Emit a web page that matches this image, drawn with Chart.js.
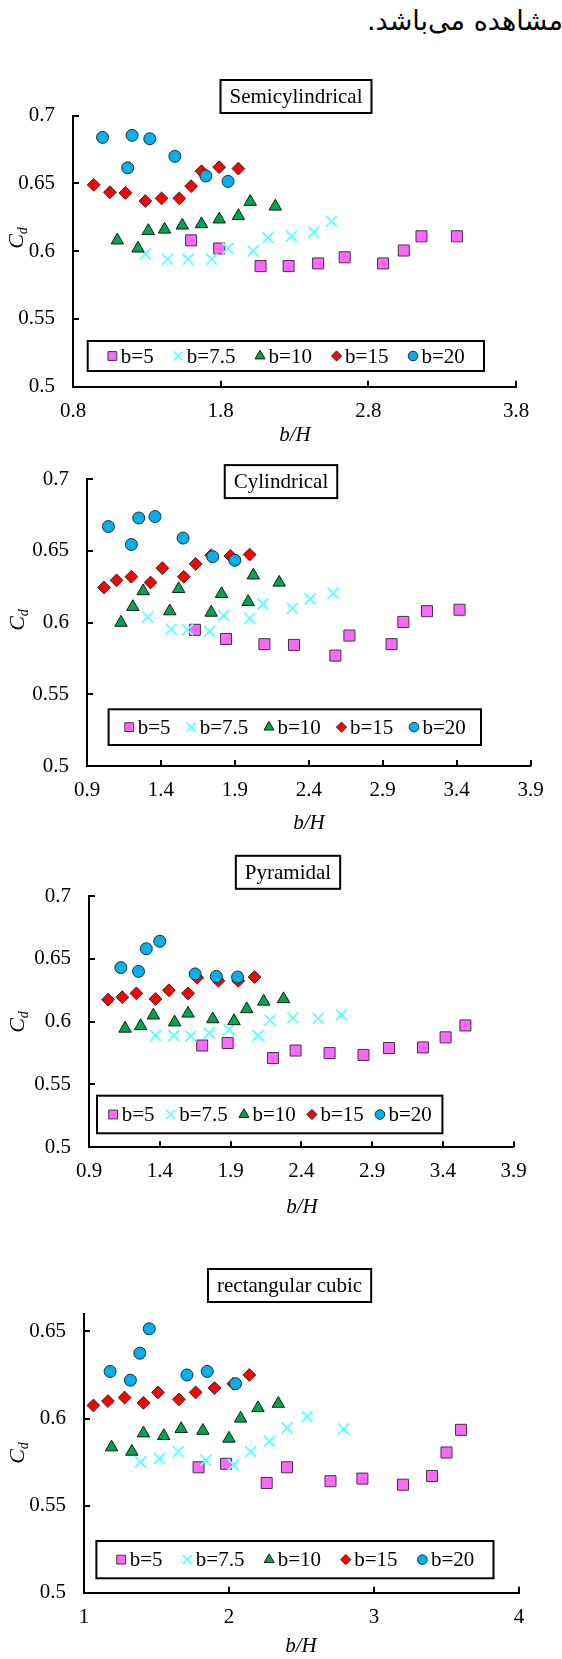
<!DOCTYPE html>
<html><head><meta charset="utf-8">
<script src="https://cdn.jsdelivr.net/npm/chart.js@4/dist/chart.umd.min.js"></script>
<style>
html,body{margin:0;padding:0;background:#fff;}
#page{position:relative;width:562px;height:1659px;overflow:hidden;background:#fff;}
.fa{position:absolute;right:-1px;top:7px;font-size:27px;line-height:27px;font-family:'DejaVu Sans',sans-serif;direction:rtl;white-space:nowrap;color:#000;}
.box{position:absolute;left:0;width:562px;}
</style></head><body>
<div id="page">
<div class="fa">مشاهده می‌باشد.</div>
<div class="box" id="b0"><canvas id="c0"></canvas></div>
<div class="box" id="b1"><canvas id="c1"></canvas></div>
<div class="box" id="b2"><canvas id="c2"></canvas></div>
<div class="box" id="b3"><canvas id="c3"></canvas></div>
</div>
<script>
// ---------- data ----------
const SERIES_LABELS = ['b=5', 'b=7.5', 'b=10', 'b=15', 'b=20'];
const PANEL_TITLES = ['Semicylindrical', 'Cylindrical', 'Pyramidal', 'rectangular cubic'];
const X_TITLE = 'b/H';

const X_TICKS_SEMI = [0.8, 1.8, 2.8, 3.8];
const X_TICKS_CYL = [0.9, 1.4, 1.9, 2.4, 2.9, 3.4, 3.9];
const X_TICKS_PYR = [0.9, 1.4, 1.9, 2.4, 2.9, 3.4, 3.9];
const X_TICKS_RECT = [1, 2, 3, 4];
const Y_TICKS_SEMI = [0.5, 0.55, 0.6, 0.65, 0.7];
const Y_TICKS_CYL = [0.5, 0.55, 0.6, 0.65, 0.7];
const Y_TICKS_PYR = [0.5, 0.55, 0.6, 0.65, 0.7];
const Y_TICKS_RECT = [0.5, 0.55, 0.6, 0.65];
const Y_MAX_SEMI = 0.7, Y_MAX_CYL = 0.7, Y_MAX_PYR = 0.7, Y_MAX_RECT = 0.66;

// Semicylindrical  [b/H, Cd]
const SEMI_B5 = [[1.60,0.608],[1.79,0.602],[2.07,0.589],[2.26,0.589],[2.46,0.591],[2.64,0.5955],[2.90,0.591],[3.04,0.6005],[3.16,0.611],[3.40,0.611]];
const SEMI_B7_5 = [[1.29,0.598],[1.44,0.594],[1.58,0.594],[1.74,0.594],[1.85,0.602],[2.02,0.600],[2.12,0.610],[2.28,0.611],[2.43,0.614],[2.55,0.622]];
const SEMI_B10 = [[1.10,0.608],[1.24,0.602],[1.31,0.615],[1.42,0.616],[1.54,0.619],[1.67,0.620],[1.79,0.6235],[1.92,0.626],[2.00,0.6365],[2.17,0.633]];
const SEMI_B15 = [[0.94,0.649],[1.05,0.6435],[1.155,0.643],[1.29,0.637],[1.40,0.639],[1.52,0.639],[1.60,0.648],[1.67,0.659],[1.79,0.662],[1.92,0.661]];
const SEMI_B20 = [[1.00,0.684],[1.17,0.6615],[1.20,0.6855],[1.32,0.683],[1.49,0.670],[1.70,0.6555],[1.85,0.6515]];

// Cylindrical
const CYL_B5 = [[1.63,0.595],[1.84,0.5886],[2.10,0.585],[2.30,0.5845],[2.58,0.577],[2.675,0.591],[2.96,0.585],[3.04,0.6005],[3.20,0.608],[3.42,0.609]];
const CYL_B7_5 = [[1.31,0.604],[1.47,0.5955],[1.58,0.595],[1.73,0.594],[1.825,0.605],[2.00,0.603],[2.09,0.613],[2.29,0.610],[2.41,0.6165],[2.565,0.6205]];
const CYL_B10 = [[1.13,0.600],[1.21,0.611],[1.28,0.622],[1.46,0.608],[1.52,0.6235],[1.74,0.607],[1.81,0.620],[1.99,0.6145],[2.025,0.633],[2.20,0.628]];
const CYL_B15 = [[1.015,0.6245],[1.10,0.6295],[1.20,0.632],[1.33,0.628],[1.41,0.638],[1.555,0.632],[1.635,0.641],[1.74,0.647],[1.87,0.6465],[2.00,0.6475]];
const CYL_B20 = [[1.045,0.667],[1.20,0.6545],[1.25,0.673],[1.36,0.674],[1.55,0.659],[1.75,0.646],[1.90,0.6435]];

// Pyramidal
const PYR_B5 = [[1.70,0.581],[1.88,0.583],[2.20,0.571],[2.36,0.577],[2.60,0.575],[2.84,0.5735],[3.02,0.579],[3.26,0.5795],[3.42,0.5875],[3.56,0.597]];
const PYR_B7_5 = [[1.37,0.589],[1.50,0.589],[1.62,0.5885],[1.75,0.591],[1.89,0.5935],[2.095,0.589],[2.18,0.601],[2.34,0.603],[2.52,0.6025],[2.685,0.6055]];
const PYR_B10 = [[1.155,0.5945],[1.265,0.5965],[1.355,0.605],[1.505,0.5995],[1.60,0.6065],[1.775,0.602],[1.925,0.6005],[2.015,0.610],[2.135,0.616],[2.275,0.618]];
const PYR_B15 = [[1.035,0.6175],[1.135,0.6195],[1.235,0.6225],[1.37,0.618],[1.465,0.625],[1.60,0.6225],[1.665,0.635],[1.815,0.6325],[1.955,0.6325],[2.07,0.6355]];
const PYR_B20 = [[1.125,0.643],[1.25,0.640],[1.305,0.658],[1.40,0.664],[1.65,0.638],[1.80,0.636],[1.95,0.6355]];

// rectangular cubic
const RECT_B5 = [[1.79,0.572],[1.98,0.574],[2.26,0.563],[2.40,0.572],[2.70,0.564],[2.92,0.5655],[3.20,0.562],[3.40,0.567],[3.50,0.5805],[3.60,0.5935]];
const RECT_B7_5 = [[1.39,0.575],[1.52,0.577],[1.65,0.581],[1.84,0.576],[2.03,0.5735],[2.15,0.581],[2.28,0.587],[2.40,0.5945],[2.54,0.601],[2.79,0.594]];
const RECT_B10 = [[1.19,0.5835],[1.33,0.581],[1.41,0.5915],[1.55,0.590],[1.67,0.594],[1.82,0.593],[2.00,0.5885],[2.08,0.600],[2.20,0.606],[2.34,0.6085]];
const RECT_B15 = [[1.065,0.6075],[1.165,0.610],[1.28,0.612],[1.41,0.609],[1.51,0.615],[1.655,0.611],[1.77,0.615],[1.90,0.6175],[2.03,0.620],[2.14,0.625]];
const RECT_B20 = [[1.18,0.627],[1.32,0.622],[1.385,0.6375],[1.45,0.6515],[1.71,0.625],[1.85,0.627],[2.045,0.620]];

// ---------- styles & layout ----------
const FONT = "'Liberation Serif','Times New Roman',serif";
const STYLES = [
  {shape:'rect', r:7.8, fill:'#ff66ff', stroke:'#3a3a3a', lw:1},
  {shape:'crossRot', r:7.8, fill:'#66ffff', stroke:'#66ffff', lw:2},
  {shape:'triangle', r:7.2, fill:'#00a550', stroke:'#1a1a1a', lw:1},
  {shape:'rectRot', r:6.4, fill:'#ff0000', stroke:'#2a2a2a', lw:1},
  {shape:'circle', r:6.0, fill:'#00b0f0', stroke:'#2a2a2a', lw:1}
];
// page coordinates
const LAYOUT = [
  {ct:50, ch:398, L:73, R:516, T:115.7, B:386.7, tcx:296, tcy:96.5, lg:[87.7,341,484,371], cdx:16, cdy:238, bhx:295, bhy:435},
  {ct:448, ch:392, L:87, R:530.5, T:479.3, B:766, tcx:281, tcy:481.6, lg:[108.6,709.3,481,745], cdx:17, cdy:620, bhx:309, bhy:823},
  {ct:840, ch:390, L:89, R:513.5, T:896, B:1147.3, tcx:288, tcy:872.3, lg:[97,1095.7,442.4,1133.3], cdx:17, cdy:1022, bhx:302, bhy:1207},
  {ct:1230, ch:429, L:84, R:519, T:1314, B:1592.7, tcx:289.6, tcy:1285.5, lg:[96.4,1541,493.5,1578.3], cdx:17, cdy:1453, bhx:301, bhy:1646}
];

function fmt(v){ return String(Math.round(v*100)/100); }

function drawMarker(ctx, st, x, y, r){
  ctx.save();
  ctx.beginPath();
  ctx.fillStyle = st.fill; ctx.strokeStyle = st.stroke; ctx.lineWidth = st.lw;
  if (st.shape === 'rect') { const s = r*Math.SQRT1_2; ctx.rect(x-s, y-s, 2*s, 2*s); }
  else if (st.shape === 'crossRot') { const c = r*Math.SQRT1_2; ctx.moveTo(x-c,y-c); ctx.lineTo(x+c,y+c); ctx.moveTo(x-c,y+c); ctx.lineTo(x+c,y-c); }
  else if (st.shape === 'triangle') { for (let k=0;k<3;k++){ const a = k*2*Math.PI/3; const px = x+Math.sin(a)*r, py = y-Math.cos(a)*r; if(k===0) ctx.moveTo(px,py); else ctx.lineTo(px,py);} ctx.closePath(); }
  else if (st.shape === 'rectRot') { ctx.moveTo(x,y-r); ctx.lineTo(x+r,y); ctx.lineTo(x,y+r); ctx.lineTo(x-r,y); ctx.closePath(); }
  else { ctx.arc(x,y,r,0,Math.PI*2); }
  if (st.shape !== 'crossRot') ctx.fill();
  ctx.stroke();
  ctx.restore();
}

const decoPlugin = {
  id: 'deco',
  afterDraw(chart, args, o){
    const ctx = chart.ctx, off = o.lay.ct, lay = o.lay;
    const xs = chart.scales.x, ys = chart.scales.y, ca = chart.chartArea;
    ctx.save();
    // inward tick marks
    ctx.strokeStyle = '#000'; ctx.lineWidth = 2;
    ctx.beginPath();
    xs.ticks.forEach(t => { const px = Math.round(xs.getPixelForValue(t.value)); ctx.moveTo(px, ca.bottom); ctx.lineTo(px, ca.bottom-6); });
    ys.ticks.forEach(t => { const py = Math.round(ys.getPixelForValue(t.value)); ctx.moveTo(ca.left, py); ctx.lineTo(ca.left+6, py); });
    ctx.stroke();
    // title box
    ctx.font = '21px ' + FONT;
    const tw = ctx.measureText(o.title).width;
    const bw = tw + 18, bh = 33;
    const bx = lay.tcx - bw/2, by = lay.tcy - off - bh/2;
    ctx.fillStyle = '#fff'; ctx.fillRect(bx, by, bw, bh);
    ctx.strokeStyle = '#000'; ctx.lineWidth = 2; ctx.strokeRect(bx, by, bw, bh);
    ctx.fillStyle = '#000'; ctx.textAlign = 'center'; ctx.textBaseline = 'middle';
    ctx.fillText(o.title, lay.tcx, lay.tcy - off + 1);
    // legend
    const [lx0, ly0, lx1, ly1] = lay.lg;
    ctx.fillStyle = '#fff'; ctx.fillRect(lx0, ly0-off, lx1-lx0, ly1-ly0);
    ctx.strokeRect(lx0, ly0-off, lx1-lx0, ly1-ly0);
    const mw = 11, gap = 3;
    ctx.font = '21px ' + FONT;
    const widths = SERIES_LABELS.map(s => ctx.measureText(s).width);
    const content = widths.reduce((a,b)=>a+b,0) + SERIES_LABELS.length*(mw+gap);
    const sp = ((lx1-lx0) - content) / (SERIES_LABELS.length + 1);
    let x = lx0 + sp;
    const cy = (ly0+ly1)/2 - off;
    SERIES_LABELS.forEach((s,i) => {
      drawMarker(ctx, STYLES[i], x + mw/2, cy, STYLES[i].r*0.8);
      ctx.fillStyle = '#000'; ctx.textAlign = 'left'; ctx.textBaseline = 'middle';
      ctx.font = '21px ' + FONT;
      ctx.fillText(s, x + mw + gap, cy + 1);
      x += mw + gap + widths[i] + sp;
    });
    // C_d label (rotated)
    ctx.save();
    ctx.translate(lay.cdx, lay.cdy - off);
    ctx.rotate(-Math.PI/2);
    ctx.font = 'italic 22px ' + FONT; const wC = ctx.measureText('C').width;
    ctx.font = 'italic 14px ' + FONT; const wd = ctx.measureText('d').width;
    const tot = wC + wd;
    ctx.fillStyle = '#000'; ctx.textAlign = 'left'; ctx.textBaseline = 'alphabetic';
    ctx.font = 'italic 22px ' + FONT; ctx.fillText('C', -tot/2, 7);
    ctx.font = 'italic 14px ' + FONT; ctx.fillText('d', -tot/2 + wC, 11);
    ctx.restore();
    // x title
    ctx.font = 'italic 21px ' + FONT;
    ctx.fillStyle = '#000'; ctx.textAlign = 'center'; ctx.textBaseline = 'middle';
    ctx.fillText(X_TITLE, lay.bhx, lay.bhy - off);
    ctx.restore();
  }
};

function makeChart(idx, series, xTicks, yTicks, yMax){
  const lay = LAYOUT[idx];
  const box = document.getElementById('b'+idx);
  box.style.top = lay.ct + 'px'; box.style.height = lay.ch + 'px';
  const datasets = series.map((pts, i) => ({
    label: SERIES_LABELS[i],
    data: pts.map(p => ({x:p[0], y:p[1]})),
    showLine: false,
    pointStyle: STYLES[i].shape,
    pointRadius: STYLES[i].r,
    pointHoverRadius: STYLES[i].r,
    backgroundColor: STYLES[i].fill,
    borderColor: STYLES[i].stroke,
    borderWidth: STYLES[i].lw,
    order: series.length - i
  }));
  const tickFont = {family: FONT, size: 21};
  return new Chart(document.getElementById('c'+idx), {
    type: 'scatter',
    data: {datasets},
    options: {
      responsive: true, maintainAspectRatio: false, animation: false, devicePixelRatio: 1,
      layout: {padding: {left: 0, right: 562 - lay.R, top: lay.T - lay.ct, bottom: 0}},
      plugins: {legend: {display:false}, tooltip: {enabled:false}, title: {display:false},
                deco: {lay, title: PANEL_TITLES[idx]}},
      scales: {
        x: {type:'linear', min: xTicks[0], max: xTicks[xTicks.length-1],
            afterBuildTicks: s => { s.ticks = xTicks.map(v => ({value:v})); },
            afterFit: s => { s.height = lay.ct + lay.ch - lay.B; },
            grid: {display:false, drawTicks:false, tickLength:0},
            border: {display:true, color:'#000', width:2},
            ticks: {font: tickFont, color:'#000', padding: 12, maxRotation:0, autoSkip:false, callback: v => fmt(v)}},
        y: {type:'linear', min: yTicks[0], max: yMax,
            afterBuildTicks: s => { s.ticks = yTicks.map(v => ({value:v})); },
            afterFit: s => { s.width = lay.L; },
            grid: {display:false, drawTicks:false, tickLength:0},
            border: {display:true, color:'#000', width:2},
            ticks: {font: tickFont, color:'#000', padding: 18, autoSkip:false, callback: v => fmt(v)}}
      }
    },
    plugins: [decoPlugin]
  });
}

makeChart(0, [SEMI_B5, SEMI_B7_5, SEMI_B10, SEMI_B15, SEMI_B20], X_TICKS_SEMI, Y_TICKS_SEMI, Y_MAX_SEMI);
makeChart(1, [CYL_B5, CYL_B7_5, CYL_B10, CYL_B15, CYL_B20], X_TICKS_CYL, Y_TICKS_CYL, Y_MAX_CYL);
makeChart(2, [PYR_B5, PYR_B7_5, PYR_B10, PYR_B15, PYR_B20], X_TICKS_PYR, Y_TICKS_PYR, Y_MAX_PYR);
makeChart(3, [RECT_B5, RECT_B7_5, RECT_B10, RECT_B15, RECT_B20], X_TICKS_RECT, Y_TICKS_RECT, Y_MAX_RECT);
</script>
</body></html>
